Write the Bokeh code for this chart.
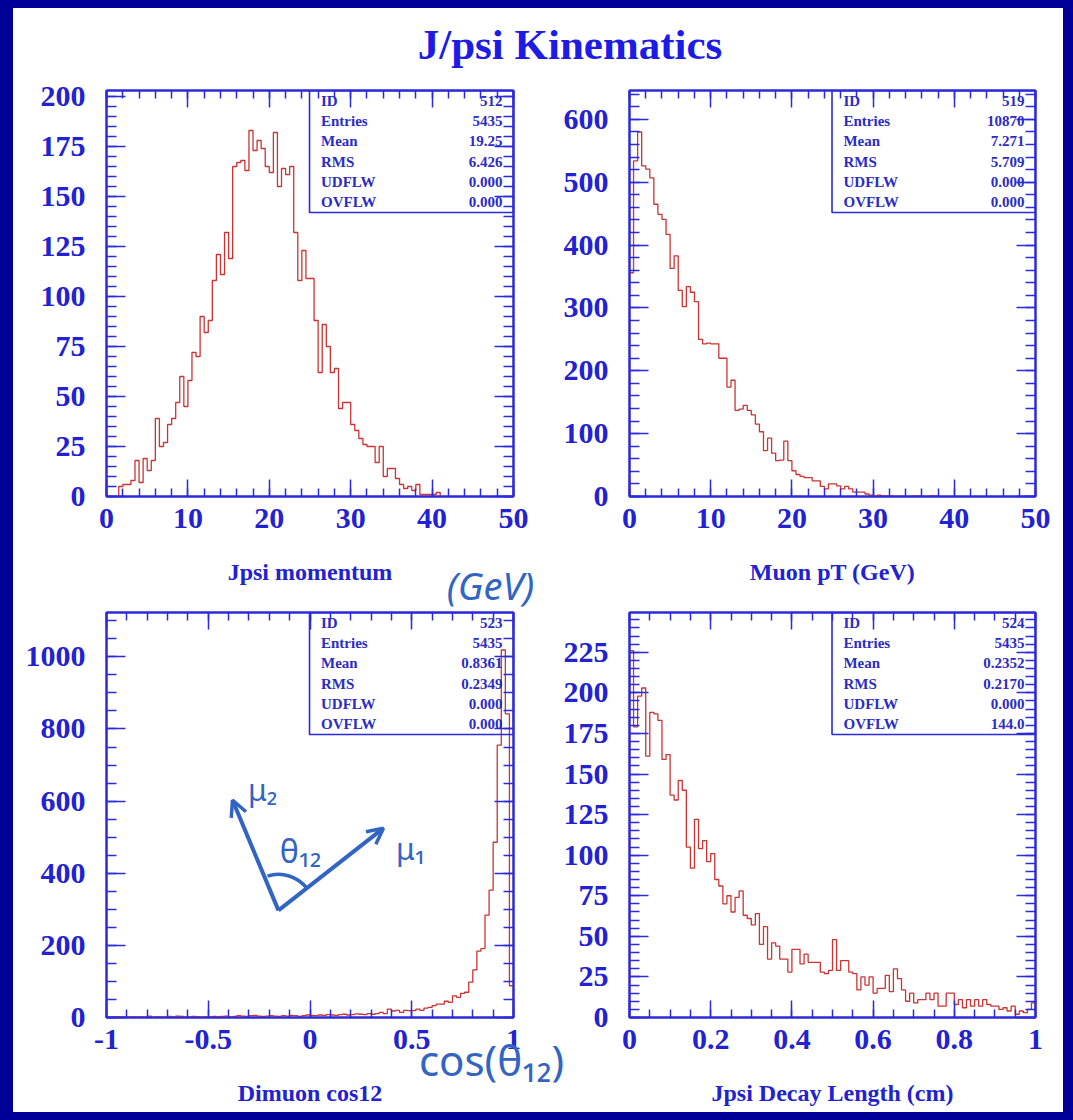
from bokeh.plotting import figure
from bokeh.models import (LinearAxis, SingleIntervalTicker, Range1d, BoxAnnotation,
                          CustomJSTickFormatter, Div, Arrow, OpenHead, Label)
from bokeh.layouts import row, column
from bokeh.embed import file_html
from bokeh.resources import INLINE
from bokeh.core.properties import value

# ---------------- data ----------------
# Panel 1: J/psi momentum, bins of 0.5 starting at 1.5
jpsi_p_start, jpsi_p_width = 1.5, 0.5
jpsi_p_counts = [5, 6, 6, 8, 18, 7, 19, 13, 18, 39,
                 25, 27, 36, 39, 47, 60, 45, 58, 72, 70,
                 90, 82, 88, 108, 121, 111, 132, 119, 165, 167,
                 168, 163, 183, 173, 178, 174, 165, 162, 182, 155,
                 164, 161, 165, 132, 108, 123, 109, 109, 88, 62,
                 86, 75, 62, 64, 44, 47, 47, 36, 33, 29,
                 26, 25, 25, 17, 25, 10, 14, 14, 9, 6,
                 4, 5, 3, 6, 1, 1, 1, 1, 2]

# Panel 2: muon pT, bins of 0.5 starting at 0
mu_pt_start, mu_pt_width = 0.0, 0.5
mu_pt_counts = [356, 534, 580, 526, 521, 507, 465, 449, 441, 417,
                363, 383, 328, 302, 334, 325, 310, 250, 243, 244,
                243, 243, 220, 220, 174, 185, 137, 139, 145, 137,
                130, 115, 103, 73, 93, 69, 57, 58, 88, 57,
                41, 35, 32, 30, 30, 25, 25, 16, 12, 20,
                20, 17, 12, 16, 12, 7, 7, 7, 4, 2,
                1, 2, 1, 1, 1, 0, 0, 0, 0, 0,
                1, 1, 0, 0, 1, 1]

# Panel 3: dimuon cos12, bins of 0.02 from -1
cos_start, cos_width = -1.0, 0.02
cos_counts = [1, 0, 1, 2, 1, 1, 2, 1, 2, 1, 4, 1, 2, 1, 1, 3, 2, 4, 3, 1, 2, 3, 2, 1, 2,
              2, 3, 2, 3, 4, 2, 3, 5, 4, 3, 5, 6, 4, 3, 4, 5, 4, 3, 5, 4, 6, 5, 3, 5, 7,
              6, 5, 7, 6, 8, 7, 6, 8, 9, 7, 8, 10, 9, 8, 11,
              9, 11, 14, 11, 23, 18, 20, 14, 20, 19, 19, 23, 20, 26, 28, 33, 37, 37, 45, 42,
              60, 56, 67, 70, 98, 132, 184, 191, 284, 353, 486, 755, 1019, 842, 88]

# Panel 4: J/psi decay length, bins of 0.01 from 0
dl_start, dl_width = 0.0, 0.01
dl_counts = [226, 179, 198, 203, 161, 188, 187, 183, 159, 162,
             137, 134, 146, 140, 105, 92, 122, 104, 109, 96,
             101, 85, 81, 70, 75, 65, 74, 78, 63, 61,
             57, 64, 45, 56, 36, 46, 44, 36, 36, 28,
             42, 42, 33, 39, 34, 34, 34, 28, 27, 29,
             48, 29, 35, 35, 28, 27, 17, 25, 20, 25,
             15, 18, 18, 26, 16, 30, 24, 17, 10, 15,
             9, 11, 11, 15, 11, 15, 7, 7, 15, 15,
             8, 11, 6, 11, 7, 11, 7, 11, 8, 7,
             7, 5, 6, 4, 7, 2, 4, 3, 5, 9]

stat_names = ["ID", "Entries", "Mean", "RMS", "UDFLW", "OVFLW"]
stats_p1 = ["512", "5435", "19.25", "6.426", "0.000", "0.000"]
stats_p2 = ["519", "10870", "7.271", "5.709", "0.000", "0.000"]
stats_p3 = ["523", "5435", "0.8361", "0.2349", "0.000", "0.000"]
stats_p4 = ["524", "5435", "0.2352", "0.2170", "0.000", "144.0"]

xlabels = ["Jpsi momentum", "Muon pT (GeV)", "Dimuon cos12", "Jpsi Decay Length (cm)"]
title_text = "J/psi Kinematics"

# ---------------- styling ----------------
NAVY = "#000099"
FRAME = "#2b2bdc"
TXT = "#2222d2"
STAT = "#2c2cc4"
RED = "#cc3333"
HAND = "#3264c3"
SERIF = "Liberation Serif"
HAND_FONT = "Noto Sans"

fmt = CustomJSTickFormatter(code="return String(parseFloat(tick.toFixed(6)));")


def hist_xy(start, width, counts):
    edges = [start + width * i for i in range(len(counts) + 1)]
    return [edges[0]] + edges, [0] + list(counts) + [0]


def make_panel(xr, ymax, xint, xminor, yint, yminor, start, width, counts, stats, xlabel,
               w, h, bl, br, bt, bb, lab_standoff):
    p = figure(width=w, height=h, x_range=Range1d(*xr), y_range=Range1d(0, ymax),
               output_backend="svg", toolbar_location=None,
               x_axis_location=None, y_axis_location=None,
               min_border_left=bl, min_border_right=br, min_border_top=bt, min_border_bottom=bb)
    p.background_fill_color = "white"
    p.border_fill_color = "white"
    p.outline_line_color = FRAME
    p.outline_line_width = 2
    p.xgrid.visible = False
    p.ygrid.visible = False

    def style(ax, major_in, minor_in, show_labels):
        ax.axis_line_color = FRAME
        ax.axis_line_width = 2
        ax.major_tick_line_color = FRAME
        ax.minor_tick_line_color = FRAME
        ax.major_tick_line_width = 1.5
        ax.minor_tick_line_width = 1.5
        ax.major_tick_in = major_in
        ax.major_tick_out = 0
        ax.minor_tick_in = minor_in
        ax.minor_tick_out = 0
        ax.major_label_text_font = SERIF
        ax.major_label_text_font_style = "bold"
        ax.formatter = fmt
        if show_labels:
            ax.major_label_text_color = TXT
            ax.major_label_text_font_size = "30px"
        else:
            ax.major_label_text_color = None
            ax.major_label_text_font_size = "1px"
            ax.major_label_standoff = 0

    xb = LinearAxis(ticker=SingleIntervalTicker(interval=xint, num_minor_ticks=xminor))
    style(xb, 17, 8, True)
    xb.major_label_standoff = 12
    xb.axis_label = xlabel
    xb.axis_label_text_font = SERIF
    xb.axis_label_text_font_style = "bold"
    xb.axis_label_text_font_size = "24px"
    xb.axis_label_text_color = TXT
    xb.axis_label_standoff = lab_standoff
    p.add_layout(xb, "below")

    xa = LinearAxis(ticker=SingleIntervalTicker(interval=xint, num_minor_ticks=xminor))
    style(xa, 17, 8, False)
    p.add_layout(xa, "above")

    yl = LinearAxis(ticker=SingleIntervalTicker(interval=yint, num_minor_ticks=yminor))
    style(yl, 19, 10, True)
    yl.major_label_standoff = 21
    p.add_layout(yl, "left")

    yr = LinearAxis(ticker=SingleIntervalTicker(interval=yint, num_minor_ticks=yminor))
    style(yr, 19, 10, False)
    p.add_layout(yr, "right")

    xs, ys = hist_xy(start, width, counts)
    p.step(xs, ys, mode="after", line_color=RED, line_width=1.3)

    # statistics box (upper right quarter of the frame)
    x0, x1 = xr
    fx = lambda f: x0 + f * (x1 - x0)
    fy = lambda off: ymax * (1 - off / (h - bt - bb))
    p.add_layout(BoxAnnotation(left=fx(0.4988), right=x1, bottom=fy(122), top=ymax,
                               fill_alpha=0, line_color=FRAME, line_alpha=1, line_width=1.6))
    rows_y = [fy(10.7 + 20.1 * i) for i in range(6)]
    p.text(x=[fx(0.527)] * 6, y=rows_y, text=stat_names, text_font=value(SERIF),
           text_font_style="bold", text_font_size="15px", text_color=STAT,
           text_align="left", text_baseline="middle")
    p.text(x=[fx(0.973)] * 6, y=rows_y, text=stats, text_font=value(SERIF),
           text_font_style="bold", text_font_size="15px", text_color=STAT,
           text_align="right", text_baseline="middle")
    return p


W_L, W_R = 547, 503
H_T, H_B = 530, 512

p1 = make_panel((0, 50), 203, 10, 5, 25, 5, jpsi_p_start, jpsi_p_width, jpsi_p_counts,
                stats_p1, xlabels[0], W_L, H_T, 93, 47, 20, 104, 28)
p2 = make_panel((0, 50), 646, 10, 5, 100, 5, mu_pt_start, mu_pt_width, mu_pt_counts,
                stats_p2, xlabels[1], W_R, H_T, 68, 28, 20, 104, 28)
p3 = make_panel((-1, 1), 1123, 0.5, 5, 200, 4, cos_start, cos_width, cos_counts,
                stats_p3, xlabels[2], W_L, H_B, 93, 47, 12, 95, 28)
p4 = make_panel((0, 1), 249.5, 0.2, 4, 25, 5, dl_start, dl_width, dl_counts,
                stats_p4, xlabels[3], W_R, H_B, 68, 28, 12, 95, 28)

# ---------------- handwritten annotations (inside the cos12 frame) ----------------
p3.add_layout(Arrow(end=OpenHead(size=16, line_width=3.5, line_color=HAND),
                    x_start=-0.155, y_start=297, x_end=-0.381, y_end=603,
                    line_color=HAND, line_width=4))
p3.add_layout(Arrow(end=OpenHead(size=16, line_width=3.5, line_color=HAND),
                    x_start=-0.155, y_start=297, x_end=0.361, y_end=525,
                    line_color=HAND, line_width=4))
p3.arc(x=[-0.155], y=[297], radius=36, radius_units="screen", start_angle=0.66,
       end_angle=1.88, line_color=HAND, line_width=3.5)
p3.add_layout(Label(x=-0.233, y=631, text="\u03bc\u2082", text_font=HAND_FONT,
                    text_font_size="30px", text_color=HAND, text_align="center",
                    text_baseline="middle"))
p3.add_layout(Label(x=-0.047, y=464, text="\u03b8\u2081\u2082", text_font=HAND_FONT,
                    text_font_size="32px", text_color=HAND, text_align="center",
                    text_baseline="middle"))
p3.add_layout(Label(x=0.494, y=469, text="\u03bc\u2081", text_font=HAND_FONT,
                    text_font_size="30px", text_color=HAND, text_align="center",
                    text_baseline="middle"))

# handwritten notes that sit outside the frames: a transparent overlay canvas in page pixels
ov = figure(width=1050, height=1104, x_range=Range1d(0, 1050), y_range=Range1d(1104, 0),
            output_backend="svg", toolbar_location=None, x_axis_location=None,
            y_axis_location=None, min_border=0,
            styles={"position": "absolute", "left": "0px", "top": "0px",
                    "pointer-events": "none"})
ov.outline_line_color = None
ov.background_fill_alpha = 0
ov.border_fill_alpha = 0
ov.xgrid.visible = False
ov.ygrid.visible = False
ov.add_layout(Label(x=477, y=576, text="(GeV)", text_font=HAND_FONT, text_font_style="italic",
                    text_font_size="38px", text_color=HAND, text_align="center",
                    text_baseline="middle"))
ov.add_layout(Label(x=478, y=1051, text="cos(\u03b8\u2081\u2082)", text_font=HAND_FONT,
                    text_font_size="42px", text_color=HAND, text_align="center",
                    text_baseline="middle"))

title = Div(text=(f'<div style="box-sizing:border-box;width:1050px;height:62px;text-align:center;'
                  f"font-family:'{SERIF}';font-weight:bold;font-size:43px;line-height:50px;"
                  f'color:#1c1ce6;padding-top:12px;padding-left:64px;background:white">'
                  f'{title_text}</div>'),
            width=1050, height=62, margin=0, styles={"background-color": "white"})

page = column(title, row(p1, p2, spacing=0), row(p3, p4, spacing=0), ov, spacing=0,
              styles={"background-color": "white", "border-style": "solid",
                      "border-color": NAVY, "border-width": "8px 10px 8px 13px",
                      "position": "relative"})

open("out.html", "w").write(file_html(page, INLINE))
